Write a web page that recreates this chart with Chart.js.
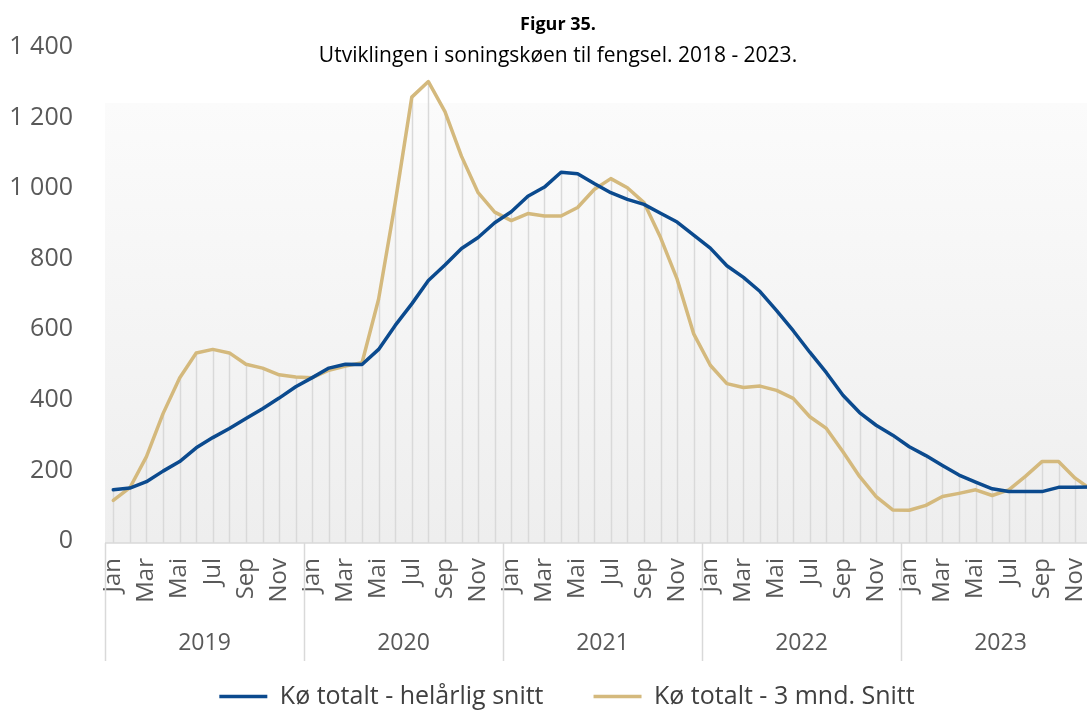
<!DOCTYPE html>
<html lang="no">
<head>
<meta charset="utf-8">
<title>Figur 35. Utviklingen i soningskøen til fengsel</title>
<script src="https://cdn.jsdelivr.net/npm/chart.js@4.4.1/dist/chart.umd.min.js"></script>
<style>
  html, body { margin: 0; padding: 0; background: #fff; overflow: hidden; }
  #wrap { position: relative; width: 1100px; height: 719px; }
</style>
</head>
<body>
<div id="wrap"><canvas id="c" width="1100" height="719"></canvas></div>
<script>
// Månedlige tall for soningskøen, januar 2019 – desember 2023
const years = ['2019', '2020', '2021', '2022', '2023'];
const monthNames = ['Jan', 'Feb', 'Mar', 'Apr', 'Mai', 'Jun', 'Jul', 'Aug', 'Sep', 'Okt', 'Nov', 'Des'];

const helarligSnitt = [
  145, 150, 168, 198, 225, 264, 293, 319, 347, 375, 405, 437,
  463, 490, 501, 500, 543, 611, 672, 738, 782, 829, 860, 902,
  933, 977, 1003, 1045, 1041, 1013, 987, 968, 954, 929, 904, 867,
  830, 780, 747, 707, 653, 596, 535, 477, 413, 364, 328, 300,
  267, 242, 214, 187, 167, 148, 140, 140, 140, 152, 152, 153
];

const treMndSnitt = [
  115, 151, 239, 361, 462, 533, 543, 533, 501, 490, 471, 465,
  463, 484, 496, 505, 686, 959, 1258, 1302, 1217, 1090, 987, 932,
  908, 928, 921, 921, 945, 996, 1027, 1001, 959, 860, 742, 587,
  498, 446, 435, 439, 427, 404, 352, 319, 253, 183, 126, 88,
  87, 101, 126, 135, 145, 129, 145, 183, 225, 225, 178, 145
];

const yTicks = [0, 200, 400, 600, 800, 1000, 1200, 1400];

const seriesNames = ['Kø totalt - helårlig snitt', 'Kø totalt - 3 mnd. Snitt'];
const titleText = 'Figur 35.';
const subtitleText = 'Utviklingen i soningskøen til fengsel. 2018 - 2023.';

const categories = years.flatMap(y => monthNames.map(m => m + ' ' + y));

const FONT = '"Open Sans", "Noto Sans", sans-serif';
const GREY_TEXT = '#595959';
const GREY_LINE = '#d9d9d9';
const BLUE = '#0b4a8e';
const TAN = '#d4b97d';

function formatThousands(v) {
  const s = String(Math.round(v));
  return s.replace(/\B(?=(\d{3})+(?!\d))/g, ' ');
}

// Plot area with a soft vertical gradient
const plotBackground = {
  id: 'plotBackground',
  beforeDraw(chart) {
    const { ctx, chartArea: a } = chart;
    const top = a.top + 56;
    const g = ctx.createLinearGradient(0, top, 0, a.bottom);
    g.addColorStop(0, '#fbfbfb');
    g.addColorStop(1, '#eeeeee');
    ctx.save();
    ctx.fillStyle = g;
    ctx.fillRect(a.left, top, a.right - a.left, a.bottom + 2 - top);
    ctx.restore();
  }
};

// Vertical drop lines from the axis up to the higher of the two series
const dropLines = {
  id: 'dropLines',
  beforeDatasetsDraw(chart) {
    const { ctx, chartArea: a } = chart;
    const xs = chart.scales.x, ys = chart.scales.y;
    ctx.save();
    ctx.strokeStyle = GREY_LINE;
    ctx.lineWidth = 1.5;
    ctx.beginPath();
    for (let i = 0; i < categories.length; i++) {
      const x = Math.round(xs.getPixelForValue(i)) + 0.5;
      const top = ys.getPixelForValue(Math.max(helarligSnitt[i], treMndSnitt[i]));
      ctx.moveTo(x, a.bottom + 2);
      ctx.lineTo(x, top);
    }
    ctx.stroke();
    ctx.restore();
  }
};

// Centre the legend under the plot area rather than the whole canvas
const legendShift = {
  id: 'legendShift',
  afterLayout(chart) {
    const lg = chart.legend;
    if (!lg) return;
    const dx = 13;
    lg.left += dx;
    lg.right += dx;
  }
};

// Axis line, year separators, year labels and the heading
const axisDecor = {
  id: 'axisDecor',
  afterDraw(chart) {
    const { ctx, chartArea: a } = chart;
    const xs = chart.scales.x;
    const step = xs.getPixelForValue(1) - xs.getPixelForValue(0);
    const axisY = a.bottom + 2;
    const sepBottom = axisY + 118;

    ctx.save();
    ctx.strokeStyle = GREY_LINE;
    ctx.lineWidth = 1.5;
    ctx.beginPath();
    ctx.moveTo(a.left, axisY);
    ctx.lineTo(a.right, axisY);
    for (let k = 0; k <= years.length; k++) {
      const x = Math.round(xs.getPixelForValue(k * 12) - step / 2) + 0.5;
      ctx.moveTo(x, axisY);
      ctx.lineTo(x, sepBottom);
    }
    ctx.stroke();

    ctx.fillStyle = GREY_TEXT;
    ctx.font = '23px ' + FONT;
    ctx.textAlign = 'center';
    ctx.textBaseline = 'middle';
    years.forEach((y, k) => {
      const cx = (xs.getPixelForValue(k * 12) + xs.getPixelForValue(k * 12 + 11)) / 2;
      ctx.fillText(y, cx, axisY + 100);
    });

    ctx.fillStyle = '#000';
    ctx.textBaseline = 'alphabetic';
    ctx.font = 'bold 18px ' + FONT;
    ctx.fillText(titleText, 558, 30);
    ctx.font = '21px ' + FONT;
    ctx.fillText(subtitleText, 558, 61.5);
    ctx.restore();
  }
};

new Chart(document.getElementById('c'), {
  type: 'line',
  data: {
    labels: categories,
    datasets: [
      {
        label: seriesNames[0],
        data: helarligSnitt,
        borderColor: BLUE,
        backgroundColor: BLUE,
        borderWidth: 3.5,
        pointRadius: 0,
        tension: 0,
        borderJoinStyle: 'round',
        borderCapStyle: 'round'
      },
      {
        label: seriesNames[1],
        data: treMndSnitt,
        borderColor: TAN,
        backgroundColor: TAN,
        borderWidth: 3.5,
        pointRadius: 0,
        tension: 0,
        borderJoinStyle: 'round',
        borderCapStyle: 'round'
      }
    ]
  },
  options: {
    responsive: false,
    animation: false,
    devicePixelRatio: 1,
    layout: { padding: { top: 47, left: 8, right: 0, bottom: 0 } },
    plugins: {
      title: { display: false },
      tooltip: { enabled: false },
      legend: {
        position: 'bottom',
        labels: {
          usePointStyle: true,
          pointStyle: 'line',
          pointStyleWidth: 48,
          padding: 50,
          color: '#404040',
          font: { family: FONT, size: 25 }
        }
      }
    },
    scales: {
      x: {
        type: 'category',
        offset: true,
        grid: { display: false, drawTicks: false },
        border: { display: false },
        ticks: {
          autoSkip: false,
          minRotation: 90,
          maxRotation: 90,
          padding: 17,
          color: GREY_TEXT,
          font: { family: FONT, size: 24 },
          callback: (v, i) => (i % 2 === 0 ? monthNames[i % 12] : null)
        },
        afterFit: s => {
          s.height = 93;
          s.paddingLeft = 0;
          s.paddingRight = 0;
        }
      },
      y: {
        min: 0,
        max: 1400,
        grid: { display: false, drawTicks: false },
        border: { display: false },
        afterBuildTicks: s => { s.ticks = yTicks.map(v => ({ value: v })); },
        ticks: {
          padding: 32,
          color: GREY_TEXT,
          font: { family: FONT, size: 25 },
          callback: v => formatThousands(v)
        },
        afterFit: s => { s.width = 97; }
      }
    }
  },
  plugins: [plotBackground, dropLines, legendShift, axisDecor]
});
</script>
</body>
</html>
